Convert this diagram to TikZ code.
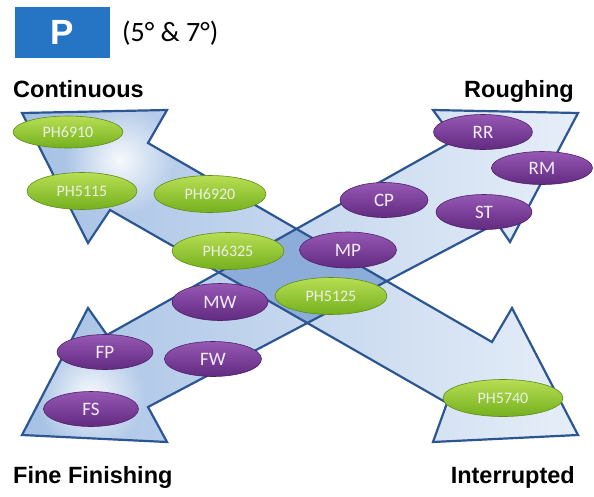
\documentclass[tikz,border=0pt]{standalone}
\usepackage{fontspec}
\setmainfont{Liberation Sans}
\newfontfamily\pillfont{Carlito}
\usetikzlibrary{shapes.geometric, fadings}

\definecolor{arrowedge}{RGB}{44,86,146}
\definecolor{shaftdark}{RGB}{166,193,229}
\definecolor{shaftlight}{RGB}{230,238,248}
\definecolor{overlap}{RGB}{140,172,218}
\definecolor{greentop}{RGB}{184,222,84}
\definecolor{greenbot}{RGB}{116,176,30}
\definecolor{purpletop}{RGB}{150,88,180}
\definecolor{purplebot}{RGB}{98,42,128}
\definecolor{pblue}{RGB}{38,117,196}
\tikzfading[name=glowfade, inner color=transparent!0, outer color=transparent!100]

\begin{document}
\begin{tikzpicture}[x=1pt, y=-1pt,
  cont/.style={insert path={(22,113) -- (167,110) -- (148,143) -- (492,342) -- (512,308) -- (578,435) -- (433,442) -- (447,403) -- (110,210) -- (88,243) -- cycle}},
  rough/.style={insert path={(22,435) -- (88,308) -- (107,335) -- (455,140) -- (433,110) -- (578,113) -- (510,242) -- (497,223) -- (148,407) -- (167,442) -- cycle}},
  glow/.style={fill=white, path fading=glowfade, fill opacity=0.9},
  greenpill/.style={ellipse, top color=greentop, bottom color=greenbot, draw=greenbot!80!black, line width=0.6,
    minimum width=112, minimum height=37, inner sep=0pt, text={rgb,255:red,236;green,240;blue,228},
    font=\pillfont\fontsize{16}{16}\selectfont},
  purplepill/.style={ellipse, top color=purpletop, bottom color=purplebot, draw=purplebot!80!black, line width=0.6,
    minimum width=96, minimum height=35, inner sep=0pt, text={rgb,255:red,242;green,238;blue,246},
    font=\pillfont\fontsize{19}{19}\selectfont},
  heading/.style={font=\bfseries\fontsize{23.5}{23.5}\selectfont, inner sep=0pt}]
  \useasboundingbox (0,0) rectangle (594,496);

  \shade[left color=shaftdark, right color=shaftlight][cont];
  \shade[left color=shaftdark, right color=shaftlight][rough];
  \begin{scope}
    \clip[cont];
    \fill[glow] (120,160) circle (55);
  \end{scope}
  \begin{scope}
    \clip[rough];
    \fill[glow] (90,395) circle (55);
  \end{scope}
  \begin{scope}
    \clip[cont];
    \fill[overlap][rough];
  \end{scope}
  \draw[arrowedge, line width=2.2, line join=miter][cont];
  \draw[arrowedge, line width=2.2, line join=miter][rough];

  \node[fill=pblue, minimum width=95, minimum height=51, inner sep=0pt, text=white,
    font=\bfseries\fontsize{35}{35}\selectfont] (pbox) at (62.5,32.5) {P};
  \node[anchor=west, inner sep=0pt, font=\pillfont\fontsize{28}{28}\selectfont] (angles) at (122,33) {(5° \& 7°)};

  \node[heading, anchor=base west] (continuous) at (13,97) {Continuous};
  \node[heading, anchor=base east] (roughing) at (574,97) {Roughing};
  \node[heading, anchor=base west] (finefinishing) at (13,483) {Fine Finishing};
  \node[heading, anchor=base east] (interrupted) at (575,483) {Interrupted};

  \node[greenpill, minimum width=110, minimum height=32] (ph6910) at (68,132) {PH6910};
  \node[greenpill, minimum width=110] (ph5115) at (82,191) {PH5115};
  \node[greenpill] (ph6920) at (210,194) {PH6920};
  \node[greenpill] (ph6325) at (228,251) {PH6325};
  \node[greenpill] (ph5125) at (331,296) {PH5125};
  \node[greenpill, minimum width=120] (ph5740) at (503,398) {PH5740};

  \node[purplepill, minimum width=99] (rr) at (483,132) {RR};
  \node[purplepill, minimum width=101, minimum height=33] (rm) at (542,168) {RM};
  \node[purplepill, minimum width=88] (cp) at (384,200) {CP};
  \node[purplepill] (st) at (484,212) {ST};
  \node[purplepill, minimum width=97, minimum height=36] (mp) at (348,250) {MP};
  \node[purplepill, minimum height=37] (mw) at (220,302) {MW};
  \node[purplepill] (fp) at (105,352) {FP};
  \node[purplepill, minimum width=97] (fw) at (213,359) {FW};
  \node[purplepill, minimum width=95] (fs) at (91,409) {FS};
\end{tikzpicture}
\end{document}
